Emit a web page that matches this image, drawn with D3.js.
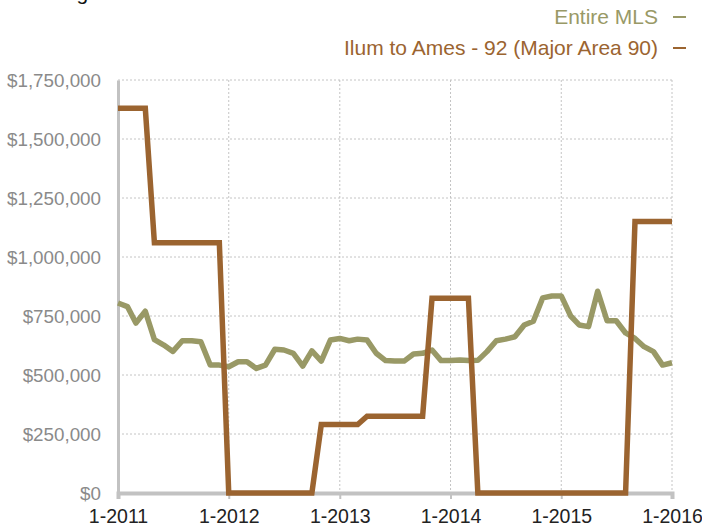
<!DOCTYPE html>
<html>
<head>
<meta charset="utf-8">
<script src="https://cdn.jsdelivr.net/npm/d3@7"></script>
<style>
  body { margin: 0; background: #fff; }
  svg { display: block; font-family: "Liberation Sans", Arial, sans-serif; }
</style>
</head>
<body>
<div id="chart"></div>
<script>
// monthly values, 1-2011 .. 1-2016
var startMonth = new Date(2011, 0, 1);
var endMonth = new Date(2016, 0, 1);

var entireMLS = [
  805, 790, 720, 770, 650, 627, 600, 645, 645, 641, 542, 542,
  535, 556, 556, 528, 542, 609, 606, 592, 538, 602, 559, 648,
  655, 645, 652, 648, 592, 561, 559, 559, 589, 592, 606, 561,
  561, 564, 561, 562, 599, 645, 652, 662, 712, 728, 827, 835,
  835, 750, 712, 705, 855, 730, 730, 678, 655, 620, 599, 542,
  552
];

var ilumToAmes = [
  1630, 1630, 1630, 1630, 1060, 1060, 1060, 1060, 1060, 1060, 1060, 1060,
  0, 0, 0, 0, 0, 0, 0, 0, 0, 0, 290, 290,
  290, 290, 290, 325, 325, 325, 325, 325, 325, 325, 825, 825,
  825, 825, 825, 0, 0, 0, 0, 0, 0, 0, 0, 0,
  0, 0, 0, 0, 0, 0, 0, 0, 1150, 1150, 1150, 1150,
  1150
];

var seriesNames = ["Entire MLS", "Ilum to Ames - 92 (Major Area 90)"];
var yTicks = [0, 250000, 500000, 750000, 1000000, 1250000, 1500000, 1750000];
var xTickYears = [2011, 2012, 2013, 2014, 2015, 2016];

var w = 702;
var h = 525;
var colors = ["#999966", "#9b6430"];

var months = d3.timeMonth.range(startMonth, d3.timeMonth.offset(endMonth, 1));

var svg = d3.select("#chart")
            .append("svg")
            .attr("width", w)
            .attr("height", h);

var x = d3.scaleTime()
          .domain([startMonth, endMonth])
          .range([118, 672]);

var y = d3.scaleLinear()
          .domain([0, 1750000])
          .range([493, 80]);

// title, cut off at the top like the original
svg.append("text")
    .attr("x", 22)
    .attr("y", 0)
    .attr("font-size", 21)
    .attr("fill", "#111")
    .text("Average Sales Price");

// grid
svg.append("g")
    .selectAll("line")
    .data(yTicks.slice(1))
    .enter()
    .append("line")
    .attr("x1", 118)
    .attr("x2", 672)
    .attr("y1", function(d){ return y(d); })
    .attr("y2", function(d){ return y(d); })
    .attr("stroke", "#c4c4c4")
    .attr("stroke-width", 1)
    .attr("stroke-dasharray", "2,2");

svg.append("g")
    .selectAll("line")
    .data(xTickYears.slice(1))
    .enter()
    .append("line")
    .attr("x1", function(d){ return x(new Date(d, 0, 1)); })
    .attr("x2", function(d){ return x(new Date(d, 0, 1)); })
    .attr("y1", 80)
    .attr("y2", 493)
    .attr("stroke", "#c4c4c4")
    .attr("stroke-width", 1)
    .attr("stroke-dasharray", "2,2");

// y axis
var yAxis = d3.axisLeft(y)
              .tickValues(yTicks)
              .tickSize(0)
              .tickPadding(17)
              .tickFormat(function(d){ return "$" + d3.format(",")(d); });

var gy = svg.append("g")
    .attr("transform", "translate(118,0)")
    .call(yAxis);
gy.select(".domain").attr("stroke", "#c2c2c2").attr("stroke-width", 3);
gy.selectAll("text")
    .attr("font-size", 18.8)
    .attr("fill", "#8a8a8a")
    .attr("font-family", "Liberation Sans, Arial, sans-serif");

// x axis
var xAxis = d3.axisBottom(x)
              .tickValues(xTickYears.map(function(d){ return new Date(d, 0, 1); }))
              .tickSize(6)
              .tickPadding(10)
              .tickFormat(d3.timeFormat("%-m-%Y"));

var gx = svg.append("g")
    .attr("transform", "translate(0,493)")
    .call(xAxis);
gx.select(".domain").attr("stroke", "#c2c2c2").attr("stroke-width", 4);
gx.selectAll(".tick line").attr("stroke", "#c2c2c2").attr("stroke-width", 2);
gx.selectAll("text")
    .attr("font-size", 19.5)
    .attr("fill", "#222")
    .attr("font-family", "Liberation Sans, Arial, sans-serif");

// lines
var line = d3.line()
             .x(function(d, i){ return x(months[i]); })
             .y(function(d){ return y(d * 1000); });

svg.append("path")
    .datum(entireMLS)
    .attr("d", line)
    .attr("fill", "none")
    .attr("stroke", colors[0])
    .attr("stroke-width", 5.5)
    .attr("stroke-linejoin", "round");

svg.append("path")
    .datum(ilumToAmes)
    .attr("d", line)
    .attr("fill", "none")
    .attr("stroke", colors[1])
    .attr("stroke-width", 5.5)
    .attr("stroke-linejoin", "miter");

// legend
var legend = svg.append("g")
    .selectAll("g")
    .data(seriesNames)
    .enter()
    .append("g")
    .attr("transform", function(d, i){ return "translate(0," + (24 + i * 31) + ")"; });

legend.append("text")
    .attr("x", 658)
    .attr("text-anchor", "end")
    .attr("font-size", 21)
    .attr("fill", function(d, i){ return colors[i]; })
    .text(function(d){ return d; });

legend.append("line")
    .attr("x1", 673)
    .attr("x2", 686)
    .attr("y1", -7)
    .attr("y2", -7)
    .attr("stroke", function(d, i){ return colors[i]; })
    .attr("stroke-width", 2);
</script>
</body>
</html>
